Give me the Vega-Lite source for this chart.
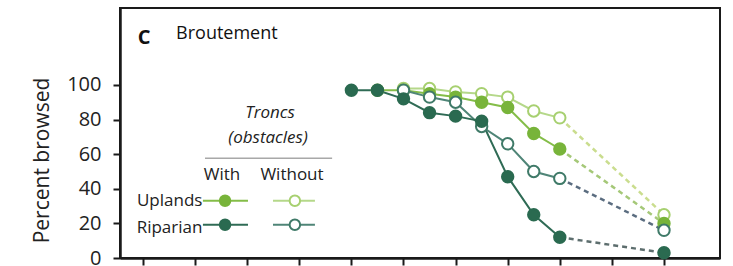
{
  "$schema": "https://vega.github.io/schema/vega-lite/v6.json",
  "width": 600,
  "height": 250,
  "autosize": {"type": "none"},
  "padding": {"left": 120, "top": 8, "right": 13, "bottom": 8},
  "background": "white",
  "config": {
    "view": {"stroke": "#1a1a1a", "strokeWidth": 2},
    "font": "Open Sans",
    "axis": {"grid": false, "domainColor": "#1a1a1a", "domainWidth": 2.5, "tickColor": "#1a1a1a", "tickWidth": 2}
  },
  "datasets": {
    "series": [
      {"series": "Uplands-Without", "x": 10, "y": 98},
      {"series": "Uplands-Without", "x": 11, "y": 98},
      {"series": "Uplands-Without", "x": 12, "y": 96},
      {"series": "Uplands-Without", "x": 13, "y": 95},
      {"series": "Uplands-Without", "x": 14, "y": 93},
      {"series": "Uplands-Without", "x": 15, "y": 85},
      {"series": "Uplands-Without", "x": 16, "y": 81},
      {"series": "Uplands-Without", "x": 20, "y": 25},
      {"series": "Uplands-With", "x": 9, "y": 97},
      {"series": "Uplands-With", "x": 10, "y": 97},
      {"series": "Uplands-With", "x": 11, "y": 95},
      {"series": "Uplands-With", "x": 12, "y": 93},
      {"series": "Uplands-With", "x": 13, "y": 90},
      {"series": "Uplands-With", "x": 14, "y": 87},
      {"series": "Uplands-With", "x": 15, "y": 72},
      {"series": "Uplands-With", "x": 16, "y": 63},
      {"series": "Uplands-With", "x": 20, "y": 20},
      {"series": "Riparian-Without", "x": 10, "y": 97},
      {"series": "Riparian-Without", "x": 11, "y": 93},
      {"series": "Riparian-Without", "x": 12, "y": 90},
      {"series": "Riparian-Without", "x": 13, "y": 76},
      {"series": "Riparian-Without", "x": 14, "y": 66},
      {"series": "Riparian-Without", "x": 15, "y": 50},
      {"series": "Riparian-Without", "x": 16, "y": 46},
      {"series": "Riparian-Without", "x": 20, "y": 16},
      {"series": "Riparian-With", "x": 8, "y": 97},
      {"series": "Riparian-With", "x": 9, "y": 97},
      {"series": "Riparian-With", "x": 10, "y": 92},
      {"series": "Riparian-With", "x": 11, "y": 84},
      {"series": "Riparian-With", "x": 12, "y": 82},
      {"series": "Riparian-With", "x": 13, "y": 79},
      {"series": "Riparian-With", "x": 14, "y": 47},
      {"series": "Riparian-With", "x": 15, "y": 25},
      {"series": "Riparian-With", "x": 16, "y": 12},
      {"series": "Riparian-With", "x": 20, "y": 3}
    ],
    "legend": [
      {"series": "Uplands-With", "x1": 2.3, "x2": 4.03, "px": 3.15, "y": 33.1},
      {"series": "Uplands-Without", "x1": 4.99, "x2": 6.6, "px": 5.83, "y": 33.1},
      {"series": "Riparian-With", "x1": 2.3, "x2": 4.03, "px": 3.15, "y": 19.2},
      {"series": "Riparian-Without", "x1": 4.99, "x2": 6.6, "px": 5.83, "y": 19.2}
    ],
    "annot": [
      {"t": "C", "x": -0.2, "y": 123.8, "k": "bold"},
      {"t": "Broutement", "x": 1.27, "y": 126.7, "k": "left"},
      {"t": "Troncs", "x": 4.875, "y": 80.8, "k": "italic"},
      {"t": "(obstacles)", "x": 4.8, "y": 66.3, "k": "italic"},
      {"t": "With", "x": 3.03, "y": 44.8, "k": "center"},
      {"t": "Without", "x": 5.72, "y": 44.8, "k": "center"},
      {"t": "Uplands", "x": 2.28, "y": 30.2, "k": "right"},
      {"t": "Riparian", "x": 2.28, "y": 14.5, "k": "right"}
    ],
    "header": [{"x1": 2.38, "x2": 7.26, "y": 57.6}]
  },
  "encoding": {
    "x": {"type": "quantitative", "scale": {"domain": [-0.883, 22.15], "nice": false, "zero": false}},
    "y": {"type": "quantitative", "scale": {"domain": [0, 144.5], "nice": false, "zero": false}}
  },
  "layer": [
    {
      "data": {"name": "header"},
      "mark": {"type": "rule", "color": "#a8a8a8", "strokeWidth": 1.5},
      "encoding": {
        "x": {"field": "x1", "type": "quantitative", "axis": {"values": [0,1,2,3,4,5,6,7,8,9,10,11,12,13,14,15,16,17,18,19,20], "labels": false, "tickSize": 7, "title": null}},
        "x2": {"field": "x2"},
        "y": {"field": "y", "type": "quantitative", "axis": {"values": [0,20,40,60,80,100], "tickSize": 7, "labelPadding": 12, "labelFontSize": 20, "labelColor": "#222", "labelFont": "Open Sans", "title": "Percent browsed", "titleFontSize": 21, "titleFontWeight": "normal", "titleColor": "#222", "titleFont": "Open Sans", "titleX": -72, "titleY": 152, "titleBaseline": "alphabetic", "titleAlign": "center", "titleAngle": -90}}
      }
    },
    {
      "data": {"name": "series"},
      "transform": [{"filter": "datum.x <= 16"}],
      "mark": {"type": "line", "strokeWidth": 2},
      "encoding": {
        "x": {"field": "x", "type": "quantitative"},
        "y": {"field": "y", "type": "quantitative"},
        "color": {"field": "series", "type": "nominal", "legend": null, "scale": {"domain": ["Uplands-Without", "Uplands-With", "Riparian-Without", "Riparian-With"], "range": ["#b5d88a", "#84bd48", "#4f8577", "#2f6b55"]}}
      }
    },
    {
      "data": {"name": "series"},
      "transform": [{"filter": "datum.x >= 16"}],
      "mark": {"type": "line", "strokeWidth": 2.5, "strokeDash": [5, 4]},
      "encoding": {
        "x": {"field": "x", "type": "quantitative"},
        "y": {"field": "y", "type": "quantitative"},
        "color": {"field": "series", "type": "nominal", "legend": null, "scale": {"domain": ["Uplands-Without", "Uplands-With", "Riparian-Without", "Riparian-With"], "range": ["#cadd8e", "#a5c878", "#5b6d80", "#5d6e6e"]}}
      }
    },
    {
      "data": {"name": "series"},
      "mark": {"type": "point", "filled": true, "opacity": 1, "size": 130, "strokeWidth": 2},
      "encoding": {
        "x": {"field": "x", "type": "quantitative"},
        "y": {"field": "y", "type": "quantitative"},
        "fill": {"field": "series", "type": "nominal", "legend": null, "scale": {"domain": ["Uplands-Without", "Uplands-With", "Riparian-Without", "Riparian-With"], "range": ["#ffffff", "#78b43a", "#ffffff", "#2a6a50"]}},
        "stroke": {"field": "series", "type": "nominal", "legend": null, "scale": {"domain": ["Uplands-Without", "Uplands-With", "Riparian-Without", "Riparian-With"], "range": ["#a7d070", "#78b43a", "#3f7a68", "#2a6a50"]}}
      }
    },
    {
      "data": {"name": "legend"},
      "mark": {"type": "rule", "strokeWidth": 2},
      "encoding": {
        "x": {"field": "x1", "type": "quantitative"},
        "x2": {"field": "x2"},
        "y": {"field": "y", "type": "quantitative"},
        "color": {"field": "series", "type": "nominal", "legend": null, "scale": {"domain": ["Uplands-Without", "Uplands-With", "Riparian-Without", "Riparian-With"], "range": ["#b5d88a", "#84bd48", "#4f8577", "#2f6b55"]}}
      }
    },
    {
      "data": {"name": "legend"},
      "mark": {"type": "point", "filled": true, "opacity": 1, "size": 110, "strokeWidth": 2},
      "encoding": {
        "x": {"field": "px", "type": "quantitative"},
        "y": {"field": "y", "type": "quantitative"},
        "fill": {"field": "series", "type": "nominal", "legend": null, "scale": {"domain": ["Uplands-Without", "Uplands-With", "Riparian-Without", "Riparian-With"], "range": ["#ffffff", "#78b43a", "#ffffff", "#2a6a50"]}},
        "stroke": {"field": "series", "type": "nominal", "legend": null, "scale": {"domain": ["Uplands-Without", "Uplands-With", "Riparian-Without", "Riparian-With"], "range": ["#a7d070", "#78b43a", "#3f7a68", "#2a6a50"]}}
      }
    },
    {
      "data": {"name": "annot"},
      "transform": [{"filter": "datum.k == 'bold'"}],
      "mark": {"type": "text", "font": "Open Sans", "fontSize": 20, "fontWeight": "bold", "align": "left", "baseline": "alphabetic", "color": "#111"},
      "encoding": {"x": {"field": "x", "type": "quantitative"}, "y": {"field": "y", "type": "quantitative"}, "text": {"field": "t"}}
    },
    {
      "data": {"name": "annot"},
      "transform": [{"filter": "datum.k == 'left'"}],
      "mark": {"type": "text", "font": "Open Sans", "fontSize": 18, "align": "left", "baseline": "alphabetic", "color": "#111"},
      "encoding": {"x": {"field": "x", "type": "quantitative"}, "y": {"field": "y", "type": "quantitative"}, "text": {"field": "t"}}
    },
    {
      "data": {"name": "annot"},
      "transform": [{"filter": "datum.k == 'italic'"}],
      "mark": {"type": "text", "font": "Open Sans", "fontSize": 17, "fontStyle": "italic", "align": "center", "baseline": "alphabetic", "color": "#222"},
      "encoding": {"x": {"field": "x", "type": "quantitative"}, "y": {"field": "y", "type": "quantitative"}, "text": {"field": "t"}}
    },
    {
      "data": {"name": "annot"},
      "transform": [{"filter": "datum.k == 'center'"}],
      "mark": {"type": "text", "font": "Open Sans", "fontSize": 17, "align": "center", "baseline": "alphabetic", "color": "#222"},
      "encoding": {"x": {"field": "x", "type": "quantitative"}, "y": {"field": "y", "type": "quantitative"}, "text": {"field": "t"}}
    },
    {
      "data": {"name": "annot"},
      "transform": [{"filter": "datum.k == 'right'"}],
      "mark": {"type": "text", "font": "Open Sans", "fontSize": 17, "align": "right", "baseline": "alphabetic", "color": "#222"},
      "encoding": {"x": {"field": "x", "type": "quantitative"}, "y": {"field": "y", "type": "quantitative"}, "text": {"field": "t"}}
    }
  ],
  "resolve": {"scale": {"color": "independent", "fill": "independent", "stroke": "independent"}}
}
